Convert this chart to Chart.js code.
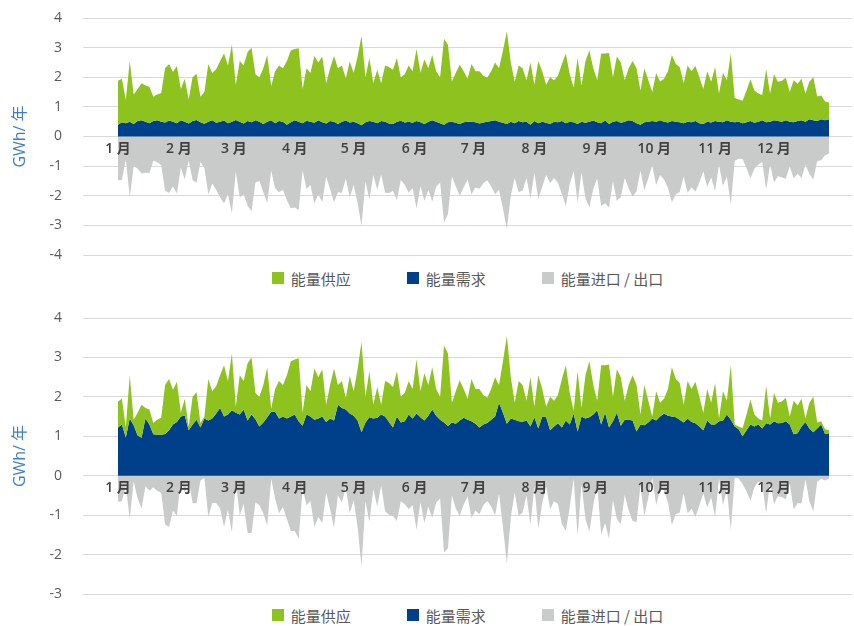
<!doctype html>
<html lang="zh">
<head>
<meta charset="utf-8">
<title>能量供应与需求</title>
<script src="https://cdn.jsdelivr.net/npm/chart.js@4.4.1/dist/chart.umd.min.js"></script>
<style>
 body{margin:0;background:#fff;font-family:"Noto Sans CJK SC","Open Sans",sans-serif}
 .box{position:absolute;left:0;width:854px}
 .legend{position:absolute;left:83px;width:769px;height:20px;display:flex;justify-content:center;align-items:center;font-size:15px;color:#595959}
 .legend span{display:flex;align-items:center;margin:0 28px;white-space:pre}
 .legend i{display:inline-block;width:12px;height:12px;margin-right:7px}
</style>
</head>
<body>
<div class="box" style="top:0;height:268px"><canvas id="chartA"></canvas></div>
<div class="legend" id="legendA" style="top:268px"></div>
<div class="box" style="top:300px;height:305px"><canvas id="chartB"></canvas></div>
<div class="legend" id="legendB" style="top:605px"></div>

<script>
/* ===== Daten (alle 2 Tage, GWh) ===================================== */
const months = ['1 月','2 月','3 月','4 月','5 月','6 月','7 月','8 月','9 月','10 月','11 月','12 月'];
const monthStart = [0,31,59,90,120,151,181,212,243,273,304,334];   // Tag im Jahr
const seriesNames = ['能量供应','能量需求','能量进口 / 出口'];
const colors = ['#8dc21f','#00408a','#c9caca'];

// Angebot – in beiden Diagrammen gleich
const supply = [
 1.88,1.95,1.23,2.55,1.42,1.6,1.8,1.72,1.68,1.34,
 1.42,1.47,2.3,2.45,2.18,2.38,1.6,1.95,1.25,2.0,
 2.12,1.34,1.5,2.45,2.14,2.27,2.55,2.8,2.4,3.1,
 1.75,2.55,2.4,2.85,3.0,2.1,2.0,2.3,2.75,1.7,
 2.2,2.4,2.3,2.55,2.9,2.95,2.98,1.6,2.3,2.14,
 2.72,2.5,2.7,1.8,2.3,2.72,2.3,2.4,1.97,2.53,
 2.14,2.7,3.4,2.0,2.65,1.8,2.25,1.8,2.4,2.35,
 2.25,2.65,2.0,2.1,2.4,2.2,2.95,2.15,2.6,2.3,
 2.75,2.2,2.0,3.3,3.1,1.85,2.15,2.42,2.2,1.95,
 2.45,2.2,2.2,2.05,1.98,2.2,2.5,2.3,2.9,3.55,
 2.5,1.85,2.4,2.3,1.9,2.5,1.75,2.55,2.2,1.75,
 2.0,1.9,2.05,2.45,2.8,2.1,1.65,2.65,1.72,2.55,
 2.9,2.3,1.9,2.8,2.8,2.82,2.0,2.7,2.5,1.9,
 2.3,2.55,2.3,1.55,2.3,1.9,1.5,2.14,1.85,1.95,
 2.2,2.75,2.45,2.35,1.8,2.4,2.2,2.38,2.0,1.6,
 2.2,1.85,2.35,1.45,2.15,1.9,2.8,1.3,1.25,1.21,
 1.55,1.93,1.55,1.45,1.4,2.28,1.45,2.1,1.85,1.88,
 1.98,1.5,1.9,1.78,1.95,1.45,1.85,2.0,1.35,1.38,
 1.18,1.15
];

// oberes Diagramm
const demandA = [
 0.4,0.48,0.45,0.5,0.42,0.52,0.55,0.5,0.45,0.52,
 0.55,0.5,0.47,0.54,0.5,0.45,0.55,0.5,0.44,0.52,
 0.56,0.48,0.43,0.5,0.55,0.46,0.5,0.54,0.45,0.5,
 0.56,0.5,0.44,0.52,0.48,0.55,0.5,0.42,0.5,0.55,
 0.45,0.52,0.5,0.4,0.48,0.55,0.5,0.45,0.53,0.5,
 0.46,0.55,0.48,0.44,0.52,0.5,0.42,0.5,0.54,0.47,
 0.5,0.45,0.38,0.48,0.52,0.5,0.45,0.52,0.5,0.44,
 0.42,0.5,0.53,0.47,0.5,0.46,0.52,0.48,0.42,0.5,
 0.55,0.5,0.45,0.4,0.48,0.5,0.46,0.42,0.48,0.5,
 0.5,0.48,0.44,0.47,0.5,0.52,0.55,0.5,0.46,0.42,
 0.5,0.45,0.52,0.48,0.5,0.4,0.52,0.45,0.5,0.46,
 0.42,0.5,0.48,0.52,0.45,0.5,0.48,0.42,0.5,0.46,
 0.5,0.54,0.48,0.45,0.55,0.42,0.5,0.52,0.46,0.5,
 0.55,0.52,0.45,0.4,0.48,0.5,0.52,0.5,0.55,0.5,
 0.47,0.52,0.5,0.48,0.45,0.5,0.48,0.52,0.45,0.42,
 0.5,0.47,0.52,0.5,0.48,0.55,0.5,0.48,0.5,0.45,
 0.48,0.52,0.46,0.5,0.55,0.48,0.5,0.55,0.52,0.5,
 0.55,0.5,0.48,0.52,0.55,0.5,0.58,0.55,0.52,0.58,
 0.55,0.58
];
const netA = [
 -1.48,-1.47,-0.78,-2.05,-1.0,-1.08,-1.25,-1.22,-1.23,-0.82,
 -0.87,-0.97,-1.83,-1.91,-1.68,-1.93,-1.05,-1.45,-0.81,-1.48,
 -1.56,-0.86,-1.07,-1.95,-1.59,-1.81,-2.05,-2.26,-1.95,-2.6,
 -1.19,-2.05,-1.96,-2.33,-2.52,-1.55,-1.5,-1.88,-2.25,-1.15,
 -1.75,-1.88,-1.8,-2.15,-2.42,-2.4,-2.48,-1.15,-1.77,-1.64,
 -2.26,-1.95,-2.22,-1.36,-1.78,-2.22,-1.88,-1.9,-1.43,-2.06,
 -1.64,-2.25,-3.02,-1.52,-2.13,-1.3,-1.8,-1.28,-1.9,-1.91,
 -1.83,-2.15,-1.47,-1.63,-1.9,-1.74,-2.43,-1.67,-2.18,-1.8,
 -2.2,-1.7,-1.55,-2.9,-2.62,-1.35,-1.69,-2.0,-1.72,-1.45,
 -1.95,-1.72,-1.76,-1.58,-1.48,-1.68,-1.95,-1.8,-2.44,-3.13,
 -2.0,-1.4,-1.88,-1.82,-1.4,-2.1,-1.23,-2.1,-1.7,-1.29,
 -1.58,-1.4,-1.57,-1.93,-2.35,-1.6,-1.17,-2.23,-1.22,-2.09,
 -2.4,-1.76,-1.42,-2.35,-2.25,-2.4,-1.5,-2.18,-2.04,-1.4,
 -1.75,-2.03,-1.85,-1.15,-1.82,-1.4,-0.98,-1.64,-1.3,-1.45,
 -1.73,-2.23,-1.95,-1.87,-1.35,-1.9,-1.72,-1.86,-1.55,-1.18,
 -1.7,-1.38,-1.83,-0.95,-1.67,-1.35,-2.3,-0.82,-0.75,-0.76,
 -1.07,-1.41,-1.09,-0.95,-0.85,-1.8,-0.95,-1.55,-1.33,-1.38,
 -1.43,-1.0,-1.42,-1.26,-1.4,-0.95,-1.27,-1.45,-0.83,-0.8,
 -0.63,-0.57
];

// unteres Diagramm
const demandB = [
 1.22,1.3,0.97,1.45,1.28,1.02,0.96,1.45,1.3,1.05,
 1.04,1.04,1.06,1.15,1.3,1.36,1.5,1.53,1.15,1.3,
 1.42,1.22,1.45,1.4,1.45,1.58,1.72,1.5,1.55,1.66,
 1.6,1.55,1.68,1.4,1.55,1.43,1.25,1.35,1.48,1.62,
 1.62,1.45,1.5,1.45,1.5,1.55,1.38,1.27,1.55,1.5,
 1.42,1.45,1.5,1.36,1.45,1.4,1.8,1.72,1.68,1.58,
 1.52,1.4,1.1,1.35,1.48,1.45,1.47,1.55,1.5,1.36,
 1.22,1.5,1.35,1.38,1.55,1.45,1.58,1.48,1.4,1.52,
 1.68,1.52,1.42,1.35,1.26,1.35,1.32,1.4,1.47,1.42,
 1.38,1.32,1.22,1.3,1.34,1.42,1.5,1.85,1.6,1.32,
 1.45,1.42,1.38,1.37,1.4,1.25,1.48,1.2,1.5,1.48,
 1.15,1.25,1.33,1.22,1.4,1.3,1.58,1.12,1.5,1.45,
 1.48,1.55,1.66,1.3,1.6,1.22,1.38,1.6,1.27,1.42,
 1.42,1.4,1.12,1.3,1.28,1.35,1.45,1.4,1.5,1.58,
 1.52,1.5,1.48,1.42,1.35,1.45,1.36,1.33,1.25,1.15,
 1.4,1.3,1.3,1.38,1.4,1.55,1.42,1.25,1.18,1.0,
 1.15,1.3,1.25,1.3,1.2,1.33,1.3,1.38,1.33,1.34,
 1.38,1.3,1.05,1.08,1.25,1.36,1.2,1.1,1.2,1.3,
 1.06,1.08
];
const netB = [
 -0.66,-0.65,-0.26,-1.1,-0.14,-0.58,-0.84,-0.27,-0.38,-0.29,
 -0.38,-0.43,-1.24,-1.3,-0.88,-1.02,-0.1,-0.42,-0.1,-0.7,
 -0.7,-0.12,-0.05,-1.05,-0.69,-0.69,-0.83,-1.3,-0.85,-1.44,
 -0.15,-1.0,-0.72,-1.45,-1.45,-0.67,-0.75,-0.95,-1.27,-0.08,
 -0.58,-0.95,-0.8,-1.1,-1.4,-1.4,-1.6,-0.33,-0.75,-0.64,
 -1.3,-1.05,-1.2,-0.44,-0.85,-1.32,-0.5,-0.68,-0.29,-0.95,
 -0.62,-1.3,-2.3,-0.65,-1.17,-0.35,-0.78,-0.25,-0.9,-0.99,
 -1.03,-1.15,-0.65,-0.72,-0.85,-0.75,-1.37,-0.67,-1.2,-0.78,
 -1.07,-0.68,-0.58,-1.95,-1.84,-0.5,-0.83,-1.02,-0.73,-0.53,
 -1.07,-0.88,-0.98,-0.75,-0.64,-0.78,-1.0,-0.45,-1.3,-2.23,
 -1.05,-0.43,-1.02,-0.93,-0.5,-1.25,-0.27,-1.35,-0.7,-0.27,
 -0.85,-0.65,-0.72,-1.23,-1.4,-0.8,-0.07,-1.53,-0.22,-1.1,
 -1.42,-0.75,-0.24,-1.5,-1.2,-1.6,-0.62,-1.1,-1.23,-0.48,
 -0.88,-1.15,-1.18,-0.25,-1.02,-0.55,-0.05,-0.74,-0.35,-0.37,
 -0.68,-1.25,-0.97,-0.93,-0.45,-0.95,-0.84,-1.05,-0.75,-0.45,
 -0.8,-0.55,-1.05,-0.07,-0.75,-0.35,-1.38,-0.05,-0.07,-0.21,
 -0.4,-0.63,-0.3,-0.15,-0.2,-0.95,-0.15,-0.72,-0.52,-0.54,
 -0.6,-0.2,-0.85,-0.7,-0.7,-0.09,-0.65,-0.9,-0.15,-0.08,
 -0.12,-0.07
];

// Tag im Jahr je Messpunkt (Abstand 2 Tage)
const days = supply.map((_, i) => i * 2);

/* ===== Chart-Fabrik ================================================= */
Chart.defaults.font.family = '"Open Sans","Noto Sans CJK SC",sans-serif';
Chart.defaults.color = '#595959';

function makeChart(id, demand, net, yMin, yMax, pad){
  const data = [supply, demand, net];
  const fills = ['+1', 'origin', 'origin'];
  return new Chart(document.getElementById(id), {
    type: 'line',
    data: {
      labels: days,
      datasets: data.map((d, k) => ({
        label: seriesNames[k], data: d, fill: fills[k],
        backgroundColor: colors[k], borderWidth: 0, pointRadius: 0, tension: 0
      }))
    },
    options: {
      responsive: true, maintainAspectRatio: false, animation: false, devicePixelRatio: 1,
      layout: {padding: {top: pad[0], bottom: pad[1], left: 0, right: 2}},
      plugins: {legend: {display: false}, tooltip: {enabled: false}},
      scales: {
        x: {
          type: 'linear', position: {y: 0}, min: -17.8, max: 373.7,
          grid: {display: false, drawTicks: false}, border: {display: false},
          afterBuildTicks: s => { s.ticks = monthStart.map(v => ({value: v})); },
          ticks: {
            z: 1, autoSkip: false, maxRotation: 0, padding: 4, color: '#404040',
            font: {size: 14, weight: 600},
            callback: v => months[monthStart.indexOf(v)]
          }
        },
        y: {
          min: yMin, max: yMax,
          // feste Achsbreite, keine automatische Polsterung oben/unten
          afterFit: s => { s.width = 83; s.paddingTop = 0; s.paddingBottom = 0; },
          grid: {color: '#d9d9d9', drawTicks: false}, border: {display: false},
          ticks: {stepSize: 1, padding: 21, font: {size: 14}, color: '#595959'},
          title: {display: true, text: 'GWh/ 年', color: '#3f7fc6',
                  font: {size: 16, family: '"Open Sans","Noto Sans CJK SC",sans-serif'},
                  padding: {top: 11, bottom: 0}}
        }
      }
    }
  });
}

function makeLegend(id){
  const el = document.getElementById(id);
  seriesNames.forEach((name, k) => {
    const item = document.createElement('span');
    item.innerHTML = `<i style="background:${colors[k]}"></i>${name}`;
    el.appendChild(item);
  });
}

makeChart('chartA', demandA, netA, -4, 4, [18, 13]);
makeChart('chartB', demandB, netB, -3, 4, [18, 11]);
makeLegend('legendA');
makeLegend('legendB');
</script>
</body>
</html>
